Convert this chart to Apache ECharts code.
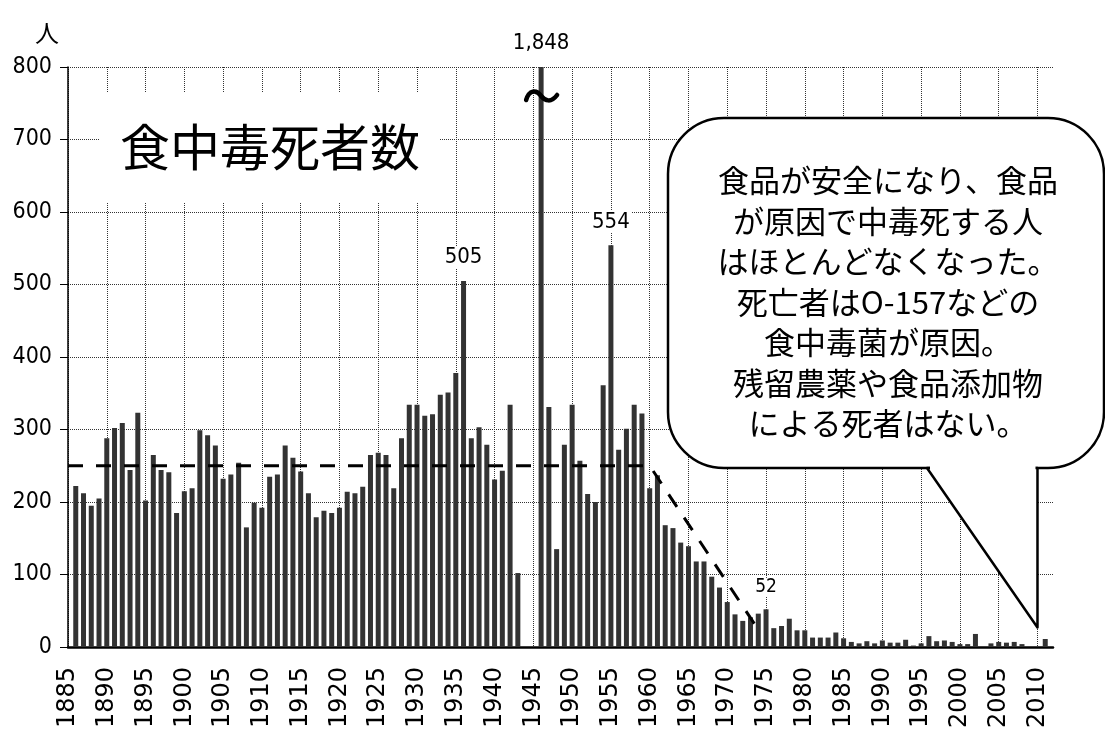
<!DOCTYPE html>
<html>
<head>
<meta charset="utf-8">
<script src="https://cdn.jsdelivr.net/npm/echarts@6/dist/echarts.min.js"></script>
<style>
  html, body { margin: 0; padding: 0; background: #fff; }
  #chart { width: 1105px; height: 742px; }
</style>
</head>
<body>
<div id="chart"></div>
<script>
// x categories: 1885 .. 2012 (1885 and 2012 carry no bar)
const firstYear = 1885;
const lastYear = 2012;
const years = [];
for (let y = firstYear; y <= lastYear; y++) years.push(String(y));

// deaths per year, 1886 .. 2011 (null = no data)
const deathsFrom = 1886;
const deaths = [
  222, 212, 195, 205, 288, 302, 309, 244, 323, 202,   // 1886-1895
  265, 244, 241, 185, 215, 219, 299, 292, 278, 232,   // 1896-1905
  238, 254, 165, 199, 192, 235, 238, 278, 261, 242,   // 1906-1915
  212, 179, 188, 185, 192, 214, 212, 221, 265, 268,   // 1916-1925
  265, 219, 288, 334, 334, 319, 321, 348, 351, 378,   // 1926-1935
  505, 288, 303, 279, 231, 243, 334, 102, null, null, // 1936-1945
  1848, 331, 135, 279, 334, 257, 211, 200, 361, 554,  // 1946-1955
  272, 301, 334, 322, 219, 237, 168, 164, 144, 139,   // 1956-1965
  118, 118, 97, 82, 62, 45, 36, 41, 46, 52,           // 1966-1975
  26, 29, 39, 23, 23, 13, 13, 13, 20, 12,             // 1976-1985
  7, 5, 8, 5, 9, 6, 6, 10, 2, 5,                      // 1986-1995
  15, 8, 9, 7, 4, 4, 18, 0, 5, 7,                     // 1996-2005
  6, 7, 4, 0, 0, 11                                   // 2006-2011
];

// dashed "level then decline" guide
const trendYears = ["1885", "1960", "1974"];
const trendValues = [250, 250, 24];

// value labels over selected bars
const noteYears = ["1936", "1946", "1955", "1975"];
const noteTexts = ["505", "1,848", "554", "52"];

const yMax = 800;
const yStep = 100;
const breakAt = ["1946", 760];      // where the "~" break sign sits
const calloutTarget = ["2010", 27]; // tip of the speech bubble

const calloutLines = [
  "食品が安全になり、食品",
  "が原因で中毒死する人",
  "はほとんどなくなった。",
  "死亡者はO-157などの",
  "食中毒菌が原因。",
  "残留農薬や食品添加物",
  "による死者はない。"
];

const numFont = "'Liberation Sans Narrow', 'DejaVu Sans Condensed', 'Liberation Sans', sans-serif";
const cjkFont = "'Noto Sans CJK JP', 'Noto Sans CJK SC', sans-serif";

const barData = years.map((y) => {
  const i = Number(y) - deathsFrom;
  return i >= 0 && i < deaths.length ? deaths[i] : null;
});

const chart = echarts.init(document.getElementById("chart"), null, { renderer: "canvas" });

chart.setOption({
  animation: false,
  backgroundColor: "#fff",
  title: {
    text: "食中毒死者数",
    left: 100,
    top: 92,
    padding: [30, 20, 30, 20],
    backgroundColor: "#fff",
    textStyle: { fontFamily: cjkFont, fontSize: 50, fontWeight: "normal", color: "#000" }
  },
  grid: { left: 68, right: 52, top: 67, bottom: 95 },
  xAxis: {
    type: "category",
    data: years,
    boundaryGap: false,
    axisLine: { lineStyle: { color: "#000", width: 2.5 } },
    axisTick: { show: false },
    axisLabel: {
      interval: 4,
      rotate: 90,
      margin: 20,
      fontFamily: "'DejaVu Sans', sans-serif",
      fontSize: 24,
      color: "#000"
    },
    splitLine: { show: true, interval: 4, lineStyle: { type: "dotted", color: "#333", width: 1 } }
  },
  yAxis: {
    type: "value",
    min: 0,
    max: yMax,
    interval: yStep,
    name: "人",
    nameLocation: "end",
    nameGap: 22,
    nameTextStyle: { fontFamily: cjkFont, fontSize: 24, color: "#000", align: "right", padding: [0, 9, 0, 0] },
    axisLine: { show: true, lineStyle: { color: "#000", width: 1.5 } },
    axisTick: { show: true, length: 8, lineStyle: { color: "#000" } },
    axisLabel: { margin: 16, fontFamily: numFont, fontSize: 23, color: "#000" },
    splitLine: { lineStyle: { type: "dotted", color: "#333", width: 1 } }
  },
  series: [
    {
      type: "bar",
      data: barData,
      barWidth: 5,
      clip: true,
      itemStyle: { color: "#333" },
      markPoint: {
        symbol: "rect",
        symbolSize: 1,
        itemStyle: { color: "rgba(0,0,0,0)" },
        data: noteYears.map((y, k) => {
          const v = barData[years.indexOf(y)];
          return {
            coord: [y, Math.min(v, yMax)],
            value: noteTexts[k],
            label: { fontSize: v < 100 ? 19 : 22 }
          };
        }),
        label: {
          show: true,
          position: "top",
          distance: 12,
          formatter: (p) => p.value,
          fontFamily: numFont,
          color: "#000",
          backgroundColor: "#fff",
          padding: [0, 2]
        },
        z: 8
      }
    },
    {
      type: "line",
      data: trendYears.map((y, k) => [y, trendValues[k]]),
      symbol: "none",
      silent: true,
      z: 5,
      lineStyle: { color: "#000", width: 3, type: [15, 13] }
    }
  ]
});

// decorations placed through the chart's own coordinate system
const brk = chart.convertToPixel({ seriesIndex: 0 }, breakAt);
const tip = chart.convertToPixel({ seriesIndex: 0 }, calloutTarget);

// speech bubble box (pixels)
const L = 668, T = 118, R = 1104, B = 468, baseLeft = 927;

chart.setOption({
  graphic: [
    {
      type: "rect",
      z: 100,
      shape: { x: L, y: T, width: R - L, height: B - T, r: 56 },
      style: { fill: "#fff", stroke: "#000", lineWidth: 2.5 }
    },
    {
      type: "polygon",
      z: 101,
      shape: { points: [[baseLeft, B], [tip[0], tip[1]], [tip[0], B]] },
      style: { fill: "#fff", stroke: "#000", lineWidth: 2.5, lineJoin: "round" }
    },
    {
      type: "line",
      z: 102,
      shape: { x1: baseLeft + 3, y1: B, x2: tip[0] - 2, y2: B },
      style: { stroke: "#fff", lineWidth: 4 }
    },
    {
      type: "text",
      z: 103,
      x: 888,
      y: 302,
      style: {
        text: calloutLines.join("\n"),
        align: "center",
        verticalAlign: "middle",
        fontFamily: cjkFont,
        fontSize: 31,
        lineHeight: 40.5,
        fill: "#000"
      }
    },
    {
      type: "group",
      z: 50,
      x: brk[0],
      y: brk[1],
      children: [
        {
          type: "bezierCurve",
          z: 50,
          shape: { x1: -15, y1: 4, cpx1: -12, cpy1: -6, cpx2: -5, cpy2: -7, x2: 0, y2: 0 },
          style: { fill: null, stroke: "#000", lineWidth: 4.5, lineCap: "round" }
        },
        {
          type: "bezierCurve",
          z: 50,
          shape: { x1: 0, y1: 0, cpx1: 4, cpy1: 5, cpx2: 10, cpy2: 7, x2: 16, y2: -1 },
          style: { fill: null, stroke: "#000", lineWidth: 4.5, lineCap: "round" }
        }
      ]
    }
  ]
});
</script>
</body>
</html>
